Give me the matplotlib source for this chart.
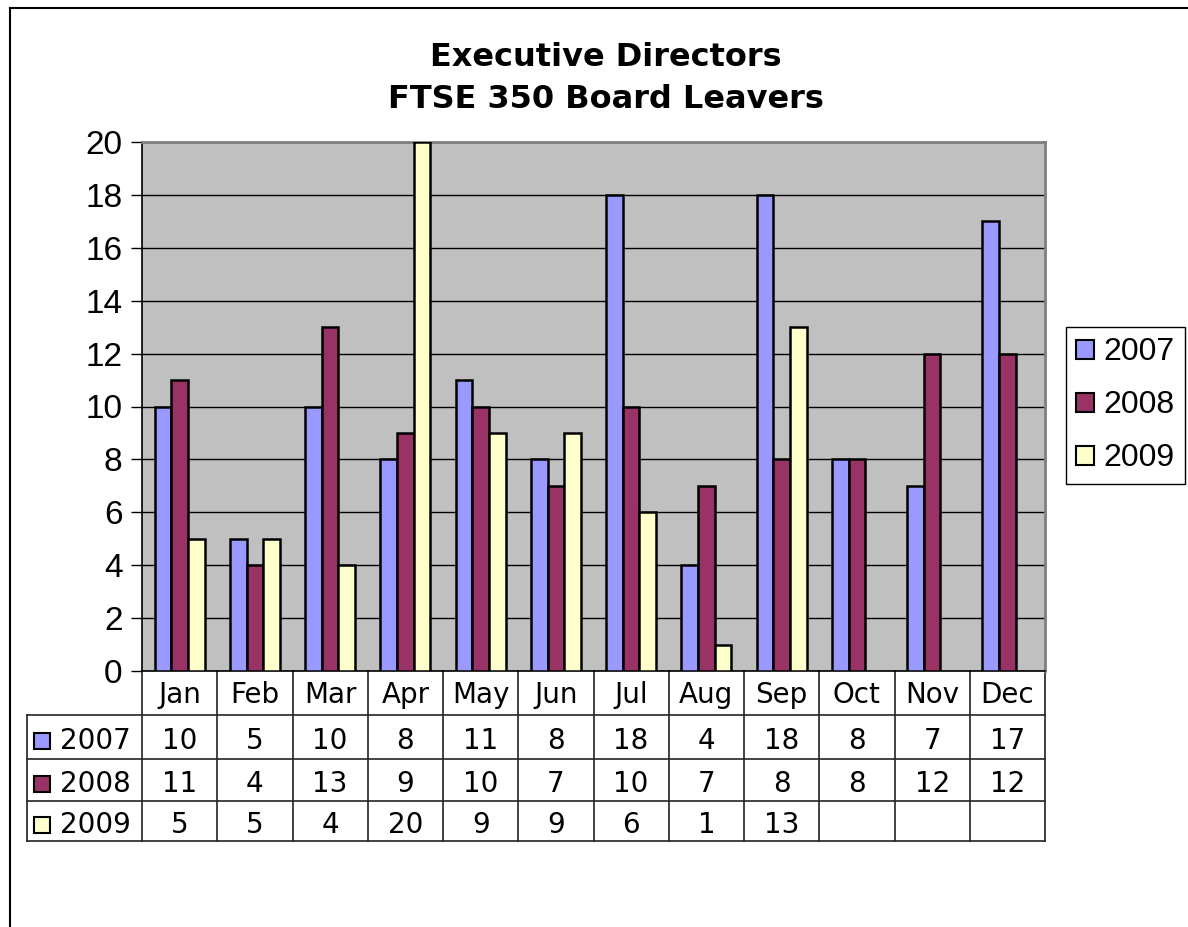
import numpy as np
import matplotlib.pyplot as plt
from matplotlib.patches import Patch
from matplotlib.lines import Line2D
import matplotlib.transforms as mtransforms

months = ["Jan", "Feb", "Mar", "Apr", "May", "Jun", "Jul", "Aug", "Sep", "Oct", "Nov", "Dec"]
years = ["2007", "2008", "2009"]
v2007 = [10, 5, 10, 8, 11, 8, 18, 4, 18, 8, 7, 17]
v2008 = [11, 4, 13, 9, 10, 7, 10, 7, 8, 8, 12, 12]
v2009 = [5, 5, 4, 20, 9, 9, 6, 1, 13, None, None, None]
colors = ["#9999FF", "#993366", "#FFFFCC"]

W, H = 1188, 927
fig = plt.figure(figsize=(W / 100, H / 100), dpi=100)

# plot area in pixels
px_l, px_r, px_t, px_b = 142, 1045, 142, 671
ax = fig.add_axes([px_l / W, 1 - px_b / H, (px_r - px_l) / W, (px_b - px_t) / H])
ax.set_facecolor("#C0C0C0")

x = np.arange(len(months))
bw = 1 / 4.5
series = [v2007, v2008, v2009]
for i, (vals, c) in enumerate(zip(series, colors)):
    xs = [xx for xx, v in zip(x, vals) if v is not None]
    ys = [v for v in vals if v is not None]
    ax.bar(np.array(xs) + (i - 1) * bw, ys, width=bw, color=c,
           edgecolor="black", linewidth=1.8, zorder=3)

ax.set_xlim(-0.5, 11.5)
ax.set_ylim(0, 20)
ax.set_yticks(range(0, 21, 2))
ax.yaxis.grid(True, color="black", linewidth=1, zorder=1)
ax.set_axisbelow(True)
ax.set_xticks([])
ax.tick_params(axis="y", labelsize=24, length=8, width=1, pad=6)
for lab in ax.get_yticklabels():
    lab.set_family("Liberation Sans")
ax.spines["top"].set_color("#808080")
ax.spines["right"].set_color("#808080")
ax.spines["top"].set_linewidth(2)
ax.spines["right"].set_linewidth(2)
ax.spines["left"].set_linewidth(1.2)
ax.spines["bottom"].set_linewidth(1.2)

# data table below axes (x in data units, y in axes fraction)
trans = mtransforms.blended_transform_factory(ax.transData, ax.transAxes)
ph = px_b - px_t
colw = (px_r - px_l) / 12
def yfrac(py):
    return (px_b - py) / ph
def xdat(px):
    return -0.5 + (px - px_l) / colw

rows_px = [671, 715, 759, 801, 841]
lc = "#222222"
# horizontal lines
for py in rows_px[1:]:
    ax.add_line(Line2D([xdat(27), 11.5], [yfrac(py)] * 2, transform=trans,
                       color=lc, lw=1.2, clip_on=False))
# vertical lines
for k in range(13):
    ax.add_line(Line2D([k - 0.5] * 2, [yfrac(671), yfrac(841)], transform=trans,
                       color=lc, lw=1.2, clip_on=False))
ax.add_line(Line2D([xdat(27)] * 2, [yfrac(715), yfrac(841)], transform=trans,
                   color=lc, lw=1.2, clip_on=False))

tfont = dict(family="DejaVu Sans", fontsize=20, ha="center", va="center")
for k, m in enumerate(months):
    ax.text(k, yfrac(695), m, transform=trans, **tfont)
for r, vals in enumerate(series):
    yc = yfrac((rows_px[r + 1] + rows_px[r + 2]) / 2 + 4)
    for k, v in enumerate(vals):
        if v is not None:
            ax.text(k, yc, str(v), transform=trans, **tfont)
    ax.plot([xdat(42)], [yc], marker="s", markersize=11, markerfacecolor=colors[r],
            markeredgecolor="black", markeredgewidth=1.5, transform=trans,
            clip_on=False, linestyle="none")
    ax.text(xdat(60), yc, years[r], transform=trans,
            family="DejaVu Sans", fontsize=20, ha="left", va="center")

# title
fig.text(606 / W, 1 - 57 / H, "Executive Directors", ha="center", va="center",
         fontsize=23, fontweight="bold", family="DejaVu Sans")
fig.text(606 / W, 1 - 99 / H, "FTSE 350 Board Leavers", ha="center", va="center",
         fontsize=23, fontweight="bold", family="DejaVu Sans")

# legend
handles = [Patch(facecolor=c, edgecolor="black", linewidth=1.5) for c in colors]
leg = fig.legend(handles, years, loc="center",
                 bbox_to_anchor=(1125.5 / W, 1 - 405.5 / H),
                 prop={"family": "Liberation Sans", "size": 23},
                 handlelength=0.55, handleheight=0.55, handletextpad=0.3,
                 labelspacing=0.72, borderpad=0.32, borderaxespad=0,
                 fancybox=False, framealpha=1, edgecolor="black")
leg.get_frame().set_linewidth(1)

# outer frame (left and top)
fig.add_artist(Line2D([10 / W, 10 / W], [0, 1 - 8 / H], transform=fig.transFigure,
                      color="black", lw=1.5))
fig.add_artist(Line2D([10 / W, 1], [1 - 8 / H, 1 - 8 / H], transform=fig.transFigure,
                      color="black", lw=1.5))

fig.savefig("out.png", dpi=100)
